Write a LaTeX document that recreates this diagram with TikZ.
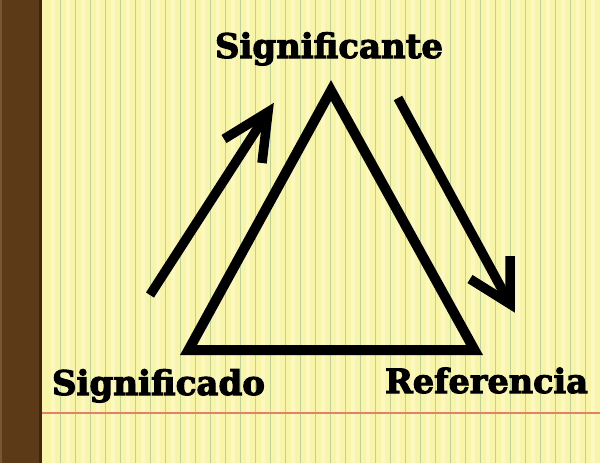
\documentclass[tikz,border=0pt]{standalone}
\usepackage{fontspec}
\setmainfont{DejaVu Serif}
\newfontfamily\heavyfont{DejaVu Serif Bold}[FakeBold=3]
\definecolor{paper}{HTML}{F8F4A8}
\definecolor{paperlight}{HTML}{FBF8C2}
\definecolor{rule}{HTML}{BCD19E}
\definecolor{margin}{HTML}{E3806A}
\definecolor{brown}{HTML}{5C3917}
\definecolor{brownlight}{HTML}{7A5533}
\definecolor{browndark}{HTML}{3E2610}
\begin{document}
\begin{tikzpicture}[x=1pt,y=-1pt,
  thick line/.style={line width=9.5pt,draw=black,line join=miter,line cap=butt},
  tri/.style={line width=10pt,draw=black,line join=miter},
  lbl/.style={font=\heavyfont,text=black,inner sep=0pt}]
\useasboundingbox (0,0) rectangle (600,463);
% paper
\fill[paper] (0,0) rectangle (600,463);
\foreach \i in {0,...,36} {
  \fill[paperlight] ({53.2+15*\i-2},0) rectangle ({53.2+15*\i+2},463);
  \draw[rule,line width=1.1pt] ({60.7+15*\i},0) -- ({60.7+15*\i},463);
}
\draw[margin,line width=1.3pt] (41,413) -- (600,413);
% brown strip
\fill[brown] (0,0) rectangle (41,463);
\fill[brownlight] (0,0) rectangle (2,463);
\fill[browndark] (39,0) rectangle (42,463);
% triangle
\coordinate (A) at (331,90.5);
\coordinate (B) at (188.5,350);
\coordinate (C) at (474.5,350);
\draw[tri] (A) -- (B) -- (C) -- cycle;
% arrow up
\coordinate (u0) at (150,295);
\coordinate (u1) at (268,112);
\coordinate (ua) at (224,139);
\coordinate (ub) at (262,163);
\draw[thick line] (u0) -- (u1);
\draw[thick line] (ua) -- (u1) -- (ub);
% arrow down
\coordinate (d0) at (398,98);
\coordinate (d1) at (510,304);
\coordinate (da) at (510,256);
\coordinate (db) at (470,279);
\draw[thick line] (d0) -- (d1);
\draw[thick line] (da) -- (d1) -- (db);
% labels
\node[lbl,anchor=base] (sig) at (329,58) {\resizebox{228pt}{!}{Significante}};
\node[lbl,anchor=base] (sdo) at (158.5,395) {\resizebox{213pt}{!}{Significado}};
\node[lbl,anchor=base] (ref) at (486.5,393) {\resizebox{203pt}{!}{Referencia}};
\end{tikzpicture}
\end{document}
